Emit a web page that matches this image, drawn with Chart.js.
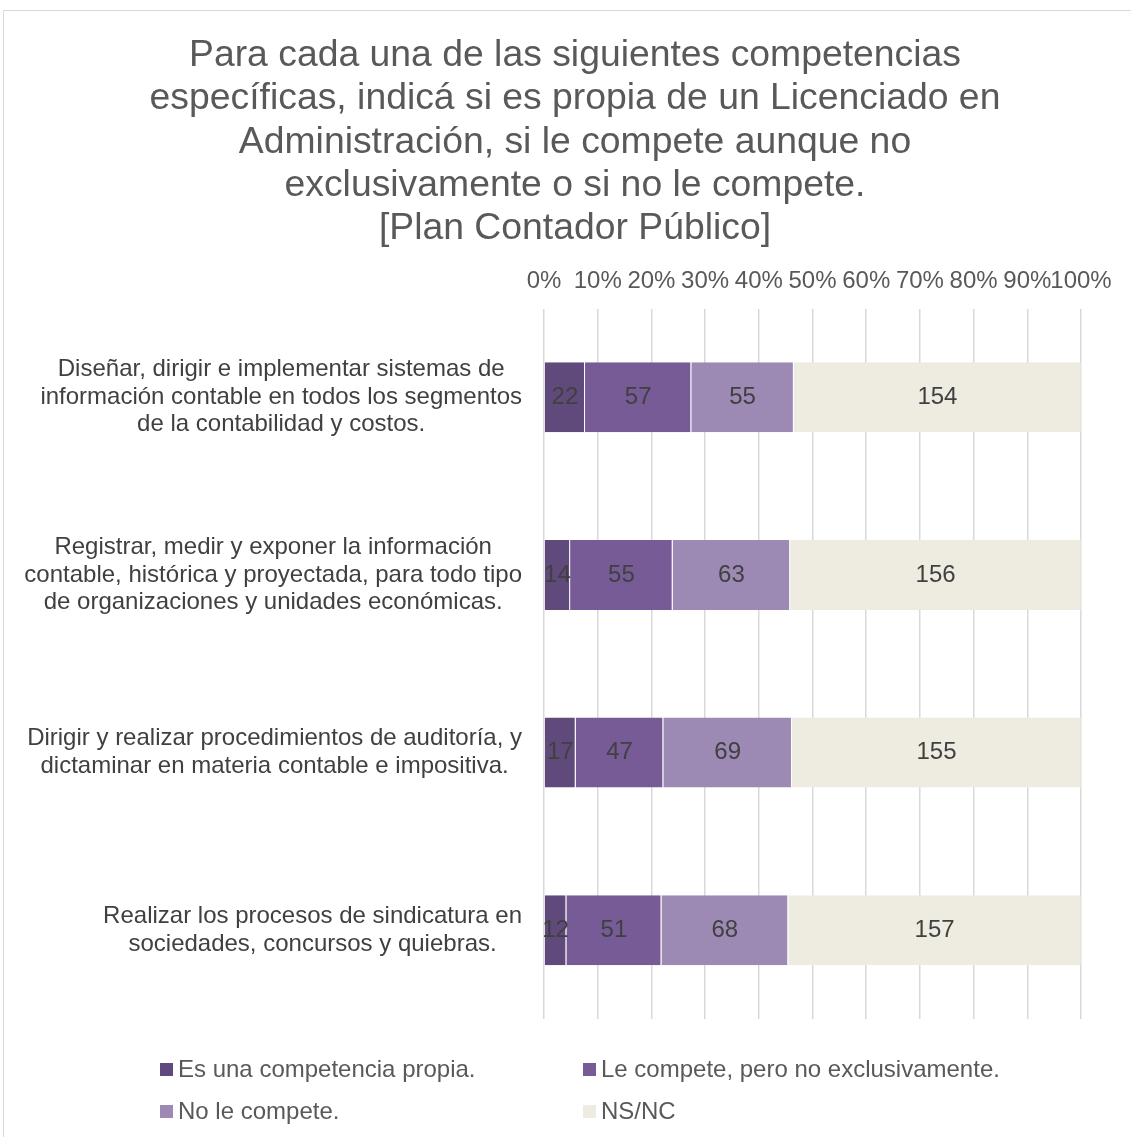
<!DOCTYPE html>
<html>
<head>
<meta charset="utf-8">
<script src="https://cdn.jsdelivr.net/npm/chart.js@4/dist/chart.umd.min.js"></script>
<style>
  body { margin: 0; background: #fff; overflow: hidden; font-family: "Liberation Sans", Arial, sans-serif; }
  #wrap { position: relative; width: 1131px; height: 1137px; overflow: hidden; }
  #frame { position: absolute; left: 3px; top: 10px; width: 1160px; height: 1160px; border: 1px solid #d9d9d9; box-sizing: border-box; }
  #chart { position: absolute; left: 0; top: 0; }
  #legend { position: absolute; left: 160px; top: 1048px; display: grid; grid-template-columns: 423px 423px; grid-auto-rows: 42px; }
  .item { display: flex; align-items: center; font-size: 24px; color: #595959; white-space: nowrap; }
  .box { width: 13px; height: 13px; margin-right: 5px; flex: none; }
</style>
</head>
<body>
<div id="wrap">
  <div id="frame"></div>
  <canvas id="chart" width="1131" height="1137"></canvas>
  <div id="legend"></div>
</div>
<script>
// Chart data
const categories = [
  ['Diseñar, dirigir e implementar sistemas de', 'información contable en todos los segmentos', 'de la contabilidad y costos.'],
  ['Registrar, medir y exponer la información', 'contable, histórica y proyectada, para todo tipo', 'de organizaciones y unidades económicas.'],
  ['Dirigir y realizar procedimientos de auditoría, y', 'dictaminar en materia contable e impositiva.'],
  ['Realizar los procesos de sindicatura en', 'sociedades, concursos y quiebras.']
];
const seriesNames = ['Es una competencia propia.', 'Le compete, pero no exclusivamente.', 'No le compete.', 'NS/NC'];
const propia = [22, 14, 17, 12];
const compete = [57, 55, 47, 51];
const noCompete = [55, 63, 69, 68];
const nsnc = [154, 156, 155, 157];
const colors = ['#604a7b', '#765b97', '#9c8ab5', '#eeece1'];

const FONT = '"Liberation Sans", Arial, sans-serif';
const seriesValues = [propia, compete, noCompete, nsnc];
const totals = categories.map((c, i) => seriesValues.reduce((s, arr) => s + arr[i], 0));

// Values written in the middle of each segment
const segmentLabels = {
  id: 'segmentLabels',
  afterDatasetsDraw(chart) {
    const ctx = chart.ctx;
    ctx.save();
    ctx.font = '24px ' + FONT;
    ctx.fillStyle = '#404040';
    ctx.textAlign = 'center';
    ctx.textBaseline = 'middle';
    chart.data.datasets.forEach((ds, i) => {
      chart.getDatasetMeta(i).data.forEach((bar, j) => {
        const p = bar.getProps(['x', 'base', 'y'], true);
        ctx.fillText(ds.counts[j], (p.x + p.base) / 2, p.y);
      });
    });
    ctx.restore();
  }
};

// Category labels: centred lines, block right-aligned next to the plot
const categoryLabels = {
  id: 'categoryLabels',
  afterDraw(chart) {
    const ctx = chart.ctx;
    const yScale = chart.scales.y;
    ctx.save();
    ctx.font = '24px ' + FONT;
    ctx.fillStyle = '#404040';
    ctx.textAlign = 'center';
    ctx.textBaseline = 'middle';
    categories.forEach((lines, i) => {
      const cy = yScale.getPixelForValue(i);
      const w = Math.max(...lines.map(l => ctx.measureText(l).width));
      const cx = chart.chartArea.left - 22 - w / 2;
      lines.forEach((l, k) => {
        ctx.fillText(l, cx, cy + (k - (lines.length - 1) / 2) * 27.5);
      });
    });
    ctx.restore();
  }
};

const chart = new Chart(document.getElementById('chart'), {
  type: 'bar',
  data: {
    labels: categories,
    datasets: seriesValues.map((vals, i) => ({
      label: seriesNames[i],
      data: vals.map((v, j) => v / totals[j] * 100),
      counts: vals,
      backgroundColor: colors[i],
      borderColor: 'rgba(255,255,255,0.35)',
      borderWidth: { left: 0, right: 1, top: 0, bottom: 0 },
      borderSkipped: false,
      barPercentage: 0.394,
      categoryPercentage: 1
    }))
  },
  options: {
    responsive: false,
    animation: false,
    indexAxis: 'y',
    layout: { padding: { top: 10, left: 69, right: 50, bottom: 118 } },
    scales: {
      x: {
        position: 'top',
        stacked: true,
        min: 0,
        max: 100,
        ticks: {
          stepSize: 10,
          padding: 13,
          maxRotation: 0,
          minRotation: 0,
          autoSkip: false,
          color: '#595959',
          font: { family: FONT, size: 24 },
          callback: v => v + '%'
        },
        grid: { color: '#d9d9d9', drawTicks: false, lineWidth: 1.5 },
        border: { display: false },
        afterFit: scale => { scale.height = 48; }
      },
      y: {
        stacked: true,
        ticks: { display: false },
        grid: { display: false },
        border: { display: false },
        afterFit: scale => { scale.width = 475; }
      }
    },
    plugins: {
      legend: { display: false },
      tooltip: { enabled: false },
      title: {
        display: true,
        text: [
          'Para cada una de las siguientes competencias',
          'específicas, indicá si es propia de un Licenciado en',
          'Administración, si le compete aunque no',
          'exclusivamente o si no le compete.',
          '[Plan Contador Público]'
        ],
        color: '#595959',
        font: { family: FONT, size: 37.33, weight: 'normal', lineHeight: 1.16 },
        padding: { top: 24, bottom: 10 }
      }
    }
  },
  plugins: [segmentLabels, categoryLabels]
});

// Legend in two columns, built from the datasets
const legend = document.getElementById('legend');
chart.data.datasets.forEach(ds => {
  const item = document.createElement('div');
  item.className = 'item';
  item.innerHTML = '<span class="box" style="background:' + ds.backgroundColor + '"></span>' + ds.label;
  legend.appendChild(item);
});
</script>
</body>
</html>
